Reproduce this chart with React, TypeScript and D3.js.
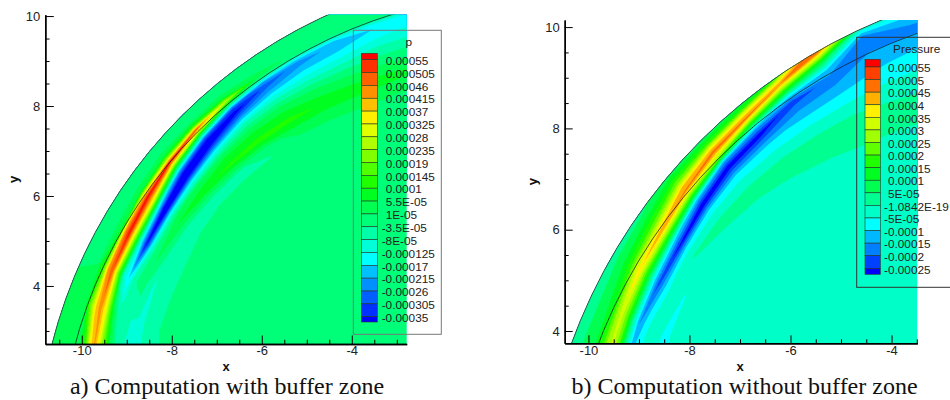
import React, { useEffect, useRef } from "react";
import * as d3 from "d3";

// polar sampling of the pressure field (angle from -x axis, degrees)
const stationAngles = [10, 15, 20, 25, 30, 35, 40, 45, 50, 55, 60, 65, 70, 75, 80];

// radius of the weak inner ridge, the trough and the main ridge at every station
const innerA = [9.3, 9.3, 9.3, 9.55, 9.5, 9.52, 9.5, 9.47, 9.43, 9.38, 9.3, 9.25, 9.22, 9.22, 9.22];
const troughA = [9.6, 9.6, 9.8, 9.88, 9.88, 9.95, 10.05, 10.17, 10.25, 10.32, 10.36, 10.33, 10.33, 10.33, 10.33];
const peakA = [10.05, 10.07, 10.2, 10.28, 10.33, 10.42, 10.5, 10.56, 10.58, 10.58, 10.6, 10.6, 10.6, 10.6, 10.6];
const innerB = [9.3, 9.3, 9.3, 9.6, 9.6, 9.62, 9.6, 9.55, 9.5, 9.4, 9.35, 9.2, 9.1, 9.1, 9.1];
const troughB = [9.85, 9.85, 9.85, 9.9, 9.92, 9.97, 10.1, 10.23, 10.28, 10.4, 10.38, 10.72, 10.6, 10.6, 10.6];
const peakB = [10.22, 10.22, 10.22, 10.3, 10.38, 10.43, 10.54, 10.65, 10.7, 10.83, 10.96, 11.1, 11.2, 11.2, 11.2];

// radial columns of the tables: distance behind the inner ridge, fractions inner->trough, trough->peak, distance past the peak
const behindInner = [0.7, 0.45, 0.25];
const innerToTrough = [0.35, 0.65, 0.85];
const troughToPeak = [0.33, 0.66];
const pastPeakA = [0.1, 0.2, 0.35];
const pastPeakB = [0.1, 0.2, 0.35, 0.5, 0.8];

// pressure in units of 1e-5, one row per station
const fieldA = [
  [0, 0, -4, -6, -8, -10, -10, -7, -5.5, -4, 6, 22, 40, 32, 13, 2, 0],
  [0, 0, -4, -6, -8, -10, -10, -7, -5.5, -4, 6, 22, 42, 34, 14, 2, 0],
  [0, 0, -1, -4, -7, -9, -8, -6, -5, -4, 8, 30, 44, 38, 24, 3, 0],
  [0, 0, -3.6, -6, -8.5, -1, -3, -6, -12, -17, -8, 20, 50, 42, 15, 1, 0],
  [0, 0, -2, -6, -7, 2, -2, -12, -27, -36, -10, 24, 56, 44, 6, 0, 0],
  [0, 0, -1, -4.5, -6, 6, 0, -15, -34, -44, -12, 30, 57, 34, 3, 0, 0],
  [0, 0, 0, -3.6, -5, 9, 2, -15, -34, -47, -24, 12, 56, 22, 2, 0, 0],
  [0, 0, 0, -3.6, -4, 11, 4, -14, -33, -44, -26, 8, 50, 12, 1, 0, 0],
  [0, 0, 0, -3.6, -2, 12, 4, -9, -26, -38, -30, -2, 27, 4, 0.5, 0, 0],
  [0, 0, 0, 0, 3.5, 11.5, 3, -10, -22, -29, -22, -5, 4, 0.5, 0, 0, 0],
  [0, 0, 0, 0.5, 3, 9.5, 1, -11, -19, -24, -16, -4, 0, 0, 0, 0, 0],
  [0, 0, 0, 1, 4, 8, 0, -10, -17, -20, -17, -5, 0, 0, 0, 0, 0],
  [0, 0, 0, 0.5, 4, 7, -1, -8, -14, -17, -14, -4, 0, 0, 0, 0, 0],
  [0, 0, 0, 0.5, 3, 6, -1, -8, -12, -14, -13, -4, 0, 0, 0, 0, 0],
  [0, 0, 0, 0.5, 3, 6, -1, -8, -12, -14, -13, -4, 0, 0, 0, 0, 0],
];

const fieldB = [
  [-2.5, -2.5, -2.5, -3.5, -5, -6, -5, -4, -6.5, -8.5, 2, 22, 31, 27, 17, 9, 6, 2, 2],
  [-2.5, -2.5, -2.5, -3.5, -5, -6, -5, -4, -6.5, -8.5, 2, 22, 31, 27, 17, 9, 6, 2, 2],
  [-2.5, -2.5, -2.5, -3.5, -5, -6, -5, -4, -6.5, -8.5, 2, 22, 31, 27, 17, 9, 6, 2, 2],
  [-2.5, -2.5, -3.5, -4.5, -5.5, -3, -5, -9, -13, -15.5, 0, 20, 33, 25, 14, 8, 5, 2, 2],
  [-2.5, -2.5, -2.5, -3, -5.2, -2.5, -6, -12, -18, -22, -4, 18, 39, 30, 18, 10, 5, 2, 2],
  [-2.5, -2.5, -2.5, -2.5, -2.5, 0.5, -3, -10, -19, -27, -9, 18, 44, 34, 22, 12, 5, 3, 3],
  [-2.5, -2.5, -2.5, -2.5, -1.5, 2, -2.5, -8, -20, -30, -12, 20, 46, 40, 26, 13, 6, 3, 3],
  [-2.5, -2.5, -2.5, -2.5, -1, 3, -2.5, -8, -20, -29, -13, 28, 48, 36, 18, 5, 3, 3, 3],
  [-2.5, -2.5, -2.5, -2, 0.5, 3.5, -3, -9, -19, -28, -14, 14, 47, 36, 16, 4, 3, 3, 3],
  [-2.5, -2.5, -2.5, -1, 1, 3.5, -3, -11, -17, -23, -7, 18, 45, 30, 8, 4, 4, 4, 4],
  [-2.5, -2.5, -2, 0, 2, 3.5, -3, -10, -15, -18, -10, 10, 48, 48, 48, 48, 48, 48, 48],
  [-2.5, -2.5, -2.5, -1, 1, 3, -4, -11, -15, -20, -15, -2, 20, 20, 20, 20, 20, 20, 20],
  [-2.5, -2.5, -2.5, -0.5, 1, 3, -3, -8, -13, -17, -12, -3, 5, 5, 5, 5, 5, 5, 5],
  [-2.5, -2.5, -2.5, -0.5, 1, 3, -3, -8, -13, -17, -12, -3, 5, 5, 5, 5, 5, 5, 5],
  [-2.5, -2.5, -2.5, -0.5, 1, 3, -3, -8, -13, -17, -12, -3, 5, 5, 5, 5, 5, 5, 5],
];

const labelsA = ["0.00055", "0.000505", "0.00046", "0.000415", "0.00037", "0.000325", "0.00028", "0.000235", "0.00019", "0.000145", "0.0001", "5.5E-05", "1E-05", "-3.5E-05", "-8E-05", "-0.000125", "-0.00017", "-0.000215", "-0.00026", "-0.000305", "-0.00035"];
const labelsB = ["0.00055", "0.0005", "0.00045", "0.0004", "0.00035", "0.0003", "0.00025", "0.0002", "0.00015", "0.0001", "5E-05", "-1.0842E-19", "-5E-05", "-0.0001", "-0.00015", "-0.0002", "-0.00025"];

// one colour per band, top of the legend first
const colorsA = ["#ff0000", "#ff3000", "#ff6000", "#ff9000", "#ffc000", "#fff000", "#e0ff00", "#b0ff00", "#80ff00", "#50ff00", "#20ff00", "#00ff20", "#00ff50", "#00ff78", "#00ffa8", "#00ffd8", "#00ffff", "#00c0ff", "#0090ff", "#0060ff", "#0030ff", "#0000ff"];
const colorsB = ["#ff0000", "#ff4000", "#ff7000", "#ffb000", "#fff000", "#d0ff00", "#a0ff00", "#60ff00", "#20ff00", "#00ff20", "#00ff50", "#00ff90", "#00ffc8", "#00ffff", "#00b8ff", "#0080ff", "#0040ff", "#0000ff"];

const SANS = "'Liberation Sans', Arial, sans-serif";
const SERIF = "'Liberation Serif', 'Times New Roman', serif";

// radius of every table cell: fixed near the centre and outside, following the features between
function radiusGrid(inner: number[], trough: number[], peak: number[], pastPeak: number[]) {
  return stationAngles.map((_, s) => {
    const L = inner[s], T = trough[s], P = peak[s];
    return [
      7,
      8.4,
      ...behindInner.map((d) => L - d),
      L,
      ...innerToTrough.map((f) => L + (T - L) * f),
      T,
      ...troughToPeak.map((f) => T + (P - T) * f),
      P,
      ...pastPeak.map((d) => P + d),
      13,
    ];
  });
}

function Panel(props: any) {
  const { field, grid, labels, colors, background, xDomain, yDomain, xRange, yRange, xMajor, yMajor, xMinor, yMinor, id, box, swatch, labelY, labelX, title, titleX, titleY, boxStroke, xTitleX, yTitleX, tickLen } = props;
  const xAxisRef = useRef<SVGGElement>(null);
  const yAxisRef = useRef<SVGGElement>(null);

  const x = d3.scaleLinear().domain(xDomain).range(xRange);
  const y = d3.scaleLinear().domain(yDomain).range(yRange);

  useEffect(() => {
    const fmt = (d: any) => String(d);
    const xg = d3.select(xAxisRef.current);
    xg.selectAll("*").remove();
    xg.append("g").call(d3.axisBottom(x).tickValues(xMinor).tickSizeInner(-tickLen / 2).tickSizeOuter(0).tickFormat(() => ""));
    xg.append("g").call(d3.axisBottom(x).tickValues(xMajor).tickSizeInner(-tickLen).tickSizeOuter(0).tickPadding(2).tickFormat(fmt));
    const yg = d3.select(yAxisRef.current);
    yg.selectAll("*").remove();
    yg.append("g").call(d3.axisLeft(y).tickValues(yMinor).tickSizeInner(-tickLen / 2).tickSizeOuter(0).tickFormat(() => ""));
    yg.append("g").call(d3.axisLeft(y).tickValues(yMajor).tickSizeInner(-tickLen).tickSizeOuter(0).tickPadding(5).tickFormat(fmt));
    [xg, yg].forEach((g: any) => {
      g.selectAll("path").attr("stroke", "#000").attr("stroke-width", 1.4);
      g.selectAll("line").attr("stroke", "#000").attr("stroke-width", 1);
      g.selectAll("text").attr("font-size", 13).attr("font-family", SANS).attr("fill", "#222");
    });
  }, []);

  // contour the table, then bend the index grid back to x/y
  const rows = stationAngles.length;
  const cols = field[0].length;
  const toPixel = ([cx, cy]: number[]) => {
    const ci = Math.min(Math.max(cx - 0.5, 0), cols - 1);
    const ai = Math.min(Math.max(cy - 0.5, 0), rows - 1);
    const c0 = Math.min(Math.floor(ci), cols - 2);
    const a0 = Math.min(Math.floor(ai), rows - 2);
    const r0 = grid[a0][c0] + (grid[a0][c0 + 1] - grid[a0][c0]) * (ci - c0);
    const r1 = grid[a0 + 1][c0] + (grid[a0 + 1][c0 + 1] - grid[a0 + 1][c0]) * (ci - c0);
    const r = r0 + (r1 - r0) * (ai - a0);
    const phi = ((stationAngles[a0] + (stationAngles[a0 + 1] - stationAngles[a0]) * (ai - a0)) * Math.PI) / 180;
    return [x(-r * Math.cos(phi)), y(r * Math.sin(phi))];
  };
  const levels = labels.map(Number).map((v: number) => v * 1e5).reverse();
  const thresholds = [-1000, ...levels];
  const bandColors = [...colors].reverse();
  const contours = d3.contours().size([cols, rows]).thresholds(thresholds)(field.flat());
  const path = d3.geoPath();
  const bands = contours.map((c: any, i: number) => ({
    color: bandColors[i],
    d: path({ type: "MultiPolygon", coordinates: c.coordinates.map((poly: any) => poly.map((ring: any) => ring.map(toPixel))) } as any),
  }));

  const legendY = d3.scaleLinear().domain([0, labels.length - 1]).range(labelY);
  const pxPerUnit = Math.abs(x(1) - x(0));

  return (
    <g>
      <defs>
        <clipPath id={`plot-${id}`}>
          <rect x={xRange[0]} y={yRange[1]} width={xRange[1] - xRange[0]} height={yRange[0] - yRange[1]} />
        </clipPath>
        <clipPath id={`disk-${id}`}>
          <circle cx={x(0)} cy={y(0)} r={11 * pxPerUnit} />
        </clipPath>
      </defs>
      <g clipPath={`url(#plot-${id})`}>
        <g clipPath={`url(#disk-${id})`}>
          {bands.map((b: any, i: number) => (
            <path key={i} d={b.d} fill={b.color} />
          ))}
          <circle cx={x(0)} cy={y(0)} r={7.6 * pxPerUnit} fill={background} />
        </g>
        <circle cx={x(0)} cy={y(0)} r={11 * pxPerUnit} fill="none" stroke="#333" strokeWidth={0.8} />
        <circle cx={x(0)} cy={y(0)} r={10.5 * pxPerUnit} fill="none" stroke="#111" strokeWidth={0.7} />
      </g>
      <g ref={xAxisRef} transform={`translate(0,${yRange[0]})`} />
      <g ref={yAxisRef} transform={`translate(${xRange[0]},0)`} />
      <text x={xTitleX} y={371} textAnchor="middle" fontFamily={SANS} fontWeight="bold" fontSize={13} fill="#111">x</text>
      <text transform={`translate(${yTitleX},${(yRange[0] + yRange[1]) / 2}) rotate(-90)`} textAnchor="middle" fontFamily={SANS} fontWeight="bold" fontSize={13} fill="#111">y</text>

      <rect x={box[0]} y={box[1]} width={box[2]} height={box[3]} fill="none" stroke={boxStroke} strokeWidth={1} />
      <text x={titleX} y={titleY} textAnchor="middle" fontFamily={SANS} fontSize={11.8} fill="#222">{title}</text>
      {colors.map((c: string, i: number) => {
        const top = i === 0 ? swatch[1] : legendY(i - 1) - 1;
        const bottom = i === colors.length - 1 ? swatch[2] : legendY(i) - 1;
        return <rect key={i} x={swatch[0]} y={top} width={swatch[3]} height={bottom - top} fill={c} stroke="#2a3a2a" strokeWidth={0.6} />;
      })}
      {labels.map((t: string, i: number) => (
        <text key={t} x={t.startsWith("-") ? labelX - 4 : labelX} y={legendY(i)} dy="0.36em" fontFamily={SANS} fontSize={11.8} fill="#222">{t}</text>
      ))}
    </g>
  );
}

export default function App() {
  return (
    <svg width={950} height={400} style={{ position: "absolute", left: 0, top: 0, background: "#fff" }}>
      <Panel
        id="a"
        field={fieldA}
        grid={radiusGrid(innerA, troughA, peakA, pastPeakA)}
        labels={labelsA}
        colors={colorsA}
        background="#00ff78"
        xDomain={[-10.81, -2.78]}
        yDomain={[2.71, 10.03]}
        xRange={[45.3, 406.7]}
        yRange={[344, 14.7]}
        xMajor={[-10, -8, -6, -4]}
        yMajor={[4, 6, 8, 10]}
        xMinor={[-10.5, -9.5, -9, -8.5, -7.5, -7, -6.5, -5.5, -5, -4.5, -3.5, -3]}
        yMinor={[3, 3.5, 4.5, 5, 5.5, 6.5, 7, 7.5, 8.5, 9, 9.5]}
        box={[353.3, 30.3, 88, 304]}
        boxStroke="#777"
        swatch={[361.3, 53.3, 322, 16]}
        labelY={[60.7, 317.7]}
        labelX={385.7}
        title="p"
        titleX={408.7}
        titleY={46}
        xTitleX={226}
        yTitleX={18}
        tickLen={8.5}
      />
      <Panel
        id="b"
        field={fieldB}
        grid={radiusGrid(innerB, troughB, peakB, pastPeakB)}
        labels={labelsB}
        colors={colorsB}
        background="#00ffc8"
        xDomain={[-10.47, -3.49]}
        yDomain={[3.757, 10.14]}
        xRange={[564.7, 917.3]}
        yRange={[343.3, 20]}
        xMajor={[-10, -8, -6, -4]}
        yMajor={[4, 6, 8, 10]}
        xMinor={[-9.5, -9, -8.5, -7.5, -7, -6.5, -5.5, -5, -4.5, -3.5]}
        yMinor={[4.5, 5, 5.5, 6.5, 7, 7.5, 8.5, 9, 9.5]}
        box={[856.7, 37.3, 110, 250]}
        boxStroke="#333"
        swatch={[865, 59.3, 274.3, 15.3]}
        labelY={[68, 269.3]}
        labelX={888}
        title="Pressure"
        titleX={916.7}
        titleY={53}
        xTitleX={740}
        yTitleX={537}
        tickLen={8}
      />
      <text x={227} y={394} textAnchor="middle" fontFamily={SERIF} fontSize={24} fill="#111">a) Computation with buffer zone</text>
      <text x={744.5} y={394} textAnchor="middle" fontFamily={SERIF} fontSize={24} fill="#111">b) Computation without buffer zone</text>
    </svg>
  );
}
